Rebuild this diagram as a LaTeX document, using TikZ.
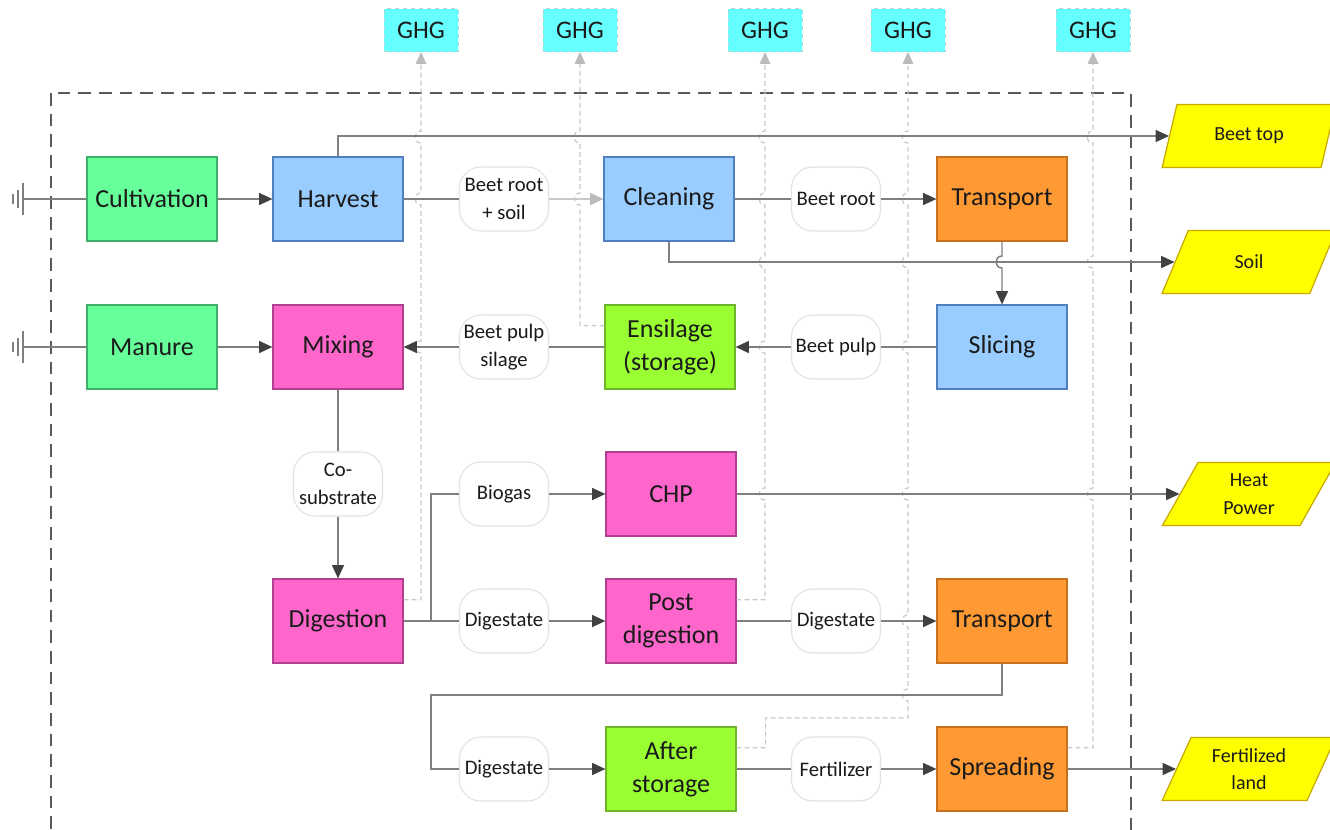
\documentclass[tikz,border=0pt]{standalone}
\usepackage{fontspec}
\setmainfont{Carlito}
\usetikzlibrary{arrows.meta,shapes.geometric,calc}
\definecolor{cgreen}{HTML}{66FF99}
\definecolor{cgreenD}{HTML}{3FAF6A}
\definecolor{cblue}{HTML}{99CCFF}
\definecolor{cblueD}{HTML}{4F7FBF}
\definecolor{corange}{HTML}{FF9933}
\definecolor{corangeD}{HTML}{C8701E}
\definecolor{cpink}{HTML}{FF66CC}
\definecolor{cpinkD}{HTML}{B0408F}
\definecolor{clime}{HTML}{99FF33}
\definecolor{climeD}{HTML}{6FB52A}
\definecolor{ccyan}{HTML}{66FFFF}
\definecolor{ccyanD}{HTML}{A8D8D8}
\definecolor{cyel}{HTML}{FFFF00}
\definecolor{cyelD}{HTML}{C9A800}
\definecolor{lineg}{HTML}{7F7F7F}
\definecolor{tipg}{HTML}{404040}
\definecolor{ghgl}{HTML}{C8C8C8}
\definecolor{ghgtip}{HTML}{BBBBBB}
\definecolor{bubD}{HTML}{E2E2E2}
\definecolor{frameD}{HTML}{5A5A5A}
\definecolor{txt}{HTML}{1A1A1A}
\newcommand\boxfont{\fontsize{19.5}{24.5}\selectfont}
\newcommand\lblfont{\fontsize{15.5}{20.5}\selectfont}
\newcommand\ghgfont{\fontsize{19}{22}\selectfont}
\newcommand\parafont{\fontsize{15}{20.5}\selectfont}
\tikzset{
 proc/.style={rectangle, line width=0.9pt, minimum width=97.5pt, minimum height=63pt, inner sep=0pt, font=\boxfont, align=center, text=txt},
 pgreen/.style={proc, fill=cgreen, draw=cgreenD},
 pblue/.style={proc, fill=cblue, draw=cblueD},
 porange/.style={proc, fill=corange, draw=corangeD},
 ppink/.style={proc, fill=cpink, draw=cpinkD},
 plime/.style={proc, fill=clime, draw=climeD},
 bub/.style={rectangle, rounded corners=16pt, fill=white, draw=bubD, line width=0.8pt, minimum width=66.75pt, minimum height=48pt, inner sep=0pt, font=\lblfont, align=center, text=txt},
 ghgbox/.style={rectangle, fill=ccyan, draw=ccyanD, dashed, line width=0.6pt, minimum width=55.5pt, minimum height=32.25pt, inner sep=0pt, font=\ghgfont, text=txt},
 para/.style={trapezium, trapezium left angle=66, trapezium right angle=114, trapezium stretches=true, minimum width=130.5pt, minimum height=47.25pt, inner sep=0pt, fill=cyel, draw=cyelD, line width=0.9pt, font=\parafont, align=center, text=txt},
 ln/.style={draw=lineg, line width=1.1pt},
 arr/.style={ln, -{Triangle[length=10pt,width=9pt,color=tipg]}},
 larr/.style={draw=ghgl, line width=1.1pt, -{Triangle[length=10pt,width=9pt,color=ghgtip]}},
 ghgln/.style={draw=ghgl, line width=0.9pt, dash pattern=on 3.5pt off 2.5pt, -{Triangle[length=9pt,width=8pt,color=ghgtip]}},
 hopup/.style args={#1/#2}{insert path={-- (#1,#2+6) .. controls (#1-8,#2+6) and (#1-8,#2-6) .. (#1,#2-6)}},
 hopdn/.style args={#1/#2}{insert path={-- (#1,#2-6) .. controls (#1-8,#2-6) and (#1-8,#2+6) .. (#1,#2+6)}},
}
\begin{document}
\begin{tikzpicture}[x=0.75pt,y=-0.75pt]
\useasboundingbox (0,0) rectangle (1330,829);
% system boundary
\draw[draw=frameD, line width=1.2pt, dash pattern=on 9.5pt off 6pt] (51,93) rectangle (1131,831);
% process boxes
\node[pgreen] (cult) at (152,199) {Cultivation};
\node[pblue] (harv) at (338,199) {Harvest};
\node[pblue] (clean) at (669,199) {Cleaning};
\node[porange] (trans1) at (1002,199) {Transport};
\node[pgreen] (manure) at (152,347) {Manure};
\node[ppink] (mix) at (338,347) {Mixing};
\node[plime] (ens) at (670,347) {Ensilage\\(storage)};
\node[pblue] (slic) at (1002,347) {Slicing};
\node[ppink] (chp) at (671,494) {CHP};
\node[ppink] (dig) at (338,621) {Digestion};
\node[ppink] (post) at (671,621) {Post\\digestion};
\node[porange] (trans2) at (1002,621) {Transport};
\node[plime] (after) at (671,769) {After\\storage};
\node[porange] (spread) at (1002,769) {Spreading};
% flow labels
\node[bub] (b1) at (504,199) {Beet root\\+ soil};
\node[bub] (b2) at (836,199) {Beet root};
\node[bub] (b3) at (504,347) {Beet pulp\\silage};
\node[bub] (b4) at (836,347) {Beet pulp};
\node[bub] (b5) at (338,484) {Co-\\substrate};
\node[bub] (b6) at (504,494) {Biogas};
\node[bub] (b7) at (504,621) {Digestate};
\node[bub] (b8) at (836,621) {Digestate};
\node[bub] (b9) at (504,769) {Digestate};
\node[bub] (b10) at (836,769) {Fertilizer};
% GHG
\node[ghgbox] (g1) at (421,30) {GHG};
\node[ghgbox] (g2) at (580,30) {GHG};
\node[ghgbox] (g3) at (765,30) {GHG};
\node[ghgbox] (g4) at (908,30) {GHG};
\node[ghgbox] (g5) at (1093,30) {GHG};
% outputs
\node[para] (bt) at (1249,136) {Beet top};
\node[para] (soilp) at (1249,262) {Soil};
\node[para] (heat) at (1249,494) {Heat\\Power};
\node[para] (fert) at (1249,769) {Fertilized\\land};
% helper coordinates
\coordinate (gnd1) at (23,199);
\coordinate (gnd2) at (23,347);
\coordinate (jd) at (431,621);
\coordinate (jt) at (431,695);
\coordinate (d1) at ($(dig.north east)!.25!(dig.south east)$);
\coordinate (e1) at ($(ens.north west)!.25!(ens.south west)$);
\coordinate (p1) at ($(post.north east)!.25!(post.south east)$);
\coordinate (a1) at ($(after.north east)!.25!(after.south east)$);
\coordinate (s1) at ($(spread.north east)!.25!(spread.south east)$);
% ground symbols
\draw[lineg, line width=1pt] (13,194) -- (13,204) (18,190) -- (18,208) (23,183) -- (23,215);
\draw[lineg, line width=1pt] (13,342) -- (13,352) (18,338) -- (18,356) (23,331) -- (23,363);
% GHG emission lines
\draw[ghgln] (d1) -- (d1 -| g1.south) [hopup=421/347] [hopup=421/199] [hopup=421/137] -- (g1.south);
\draw[ghgln] (e1) -- (e1 -| g2.south) [hopup=580/199] [hopup=580/137] -- (g2.south);
\draw[ghgln] (p1) -- (p1 -| g3.south) [hopup=765/494] [hopup=765/347] [hopup=765/262] [hopup=765/199] [hopup=765/137] -- (g3.south);
\draw[ghgln] (a1) -- ++(29,0) |- (908,718) [hopup=908/695] [hopup=908/621] [hopup=908/494] [hopup=908/347] [hopup=908/262] [hopup=908/199] [hopup=908/137] -- (g4.south);
\draw[ghgln] (s1) -- (s1 -| g5.south) [hopup=1093/494] [hopup=1093/262] [hopup=1093/137] -- (g5.south);
% flows
\draw[ln] (gnd1) -- (cult.west);
\draw[arr] (cult) -- (harv);
\draw[ln] (harv) -- (b1);
\draw[larr] (b1) -- (clean);
\draw[ln] (clean) -- (b2);
\draw[arr] (b2) -- (trans1);
\draw[arr] (trans1.south) [hopdn=1002/262] -- (slic.north);
\draw[ln] (slic) -- (b4);
\draw[arr] (b4) -- (ens);
\draw[ln] (ens) -- (b3);
\draw[arr] (b3) -- (mix);
\draw[ln] (gnd2) -- (manure.west);
\draw[arr] (manure) -- (mix);
\draw[ln] (mix) -- (b5);
\draw[arr] (b5) -- (dig);
\draw[ln] (dig.east) -- (jd);
\draw[ln] (jd) |- (b6.west);
\draw[arr] (b6) -- (chp);
\draw[ln] (jd) -- (b7.west);
\draw[arr] (b7) -- (post);
\draw[ln] (post) -- (b8);
\draw[arr] (b8) -- (trans2);
\draw[ln] (trans2.south) |- (jt) |- (b9.west);
\draw[arr] (b9) -- (after);
\draw[ln] (after) -- (b10);
\draw[arr] (b10) -- (spread);
\draw[arr] (spread) -- (fert.left side);
\draw[arr] (chp) -- (heat.left side);
\draw[arr] (harv.north) |- (bt.left side);
\draw[arr] (clean.south) |- (soilp.left side);
\end{tikzpicture}
\end{document}
